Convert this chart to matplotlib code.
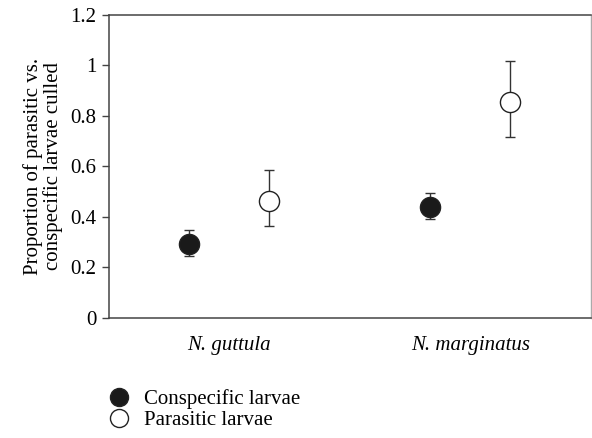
import matplotlib
matplotlib.use("Agg")
import matplotlib.pyplot as plt
from matplotlib.lines import Line2D

plt.rcParams["font.family"] = ["Liberation Serif", "DejaVu Serif"]

species = ["N. guttula", "N. marginatus"]
consp_mean = [0.293, 0.441]
consp_lo = [0.245, 0.392]
consp_hi = [0.350, 0.496]
paras_mean = [0.462, 0.855]
paras_lo = [0.364, 0.718]
paras_hi = [0.584, 1.018]
yticks = [0, 0.2, 0.4, 0.6, 0.8, 1, 1.2]
ytick_labels = ["0", "0.2", "0.4", "0.6", "0.8", "1", "1.2"]

fig = plt.figure(figsize=(5.92, 4.38), dpi=100)
ax = fig.add_axes([0.184, 0.274, 0.814, 0.692])

pos = [1, 2]
off = 0.166

def draw(xs, mean, lo, hi, face):
    err = [[m - l for m, l in zip(mean, lo)], [h - m for m, h in zip(mean, hi)]]
    ax.errorbar(xs, mean, yerr=err, fmt="none", ecolor="#333333",
                elinewidth=1.0, capsize=3.5, capthick=1.0, zorder=2)
    ax.plot(xs, mean, "o", ms=14.5, mfc=face, mec="#222222", mew=1.0,
            ls="none", zorder=3)

draw([p - off for p in pos], consp_mean, consp_lo, consp_hi, "#1a1a1a")
draw([p + off for p in pos], paras_mean, paras_lo, paras_hi, "white")

ax.set_xlim(0.5, 2.5)
ax.set_ylim(0, 1.2)
ax.set_xticks(pos)
ax.set_xticklabels(species, fontstyle="italic", fontsize=15)
ax.tick_params(axis="x", length=0, pad=13)
ax.set_yticks(yticks)
ax.set_yticklabels(ytick_labels, fontsize=15)
ax.tick_params(axis="y", direction="out", length=5, width=1, color="#444444", pad=4)

for s in ["left", "top", "bottom"]:
    ax.spines[s].set_color("#444444")
    ax.spines[s].set_linewidth(1.1)
ax.spines["right"].set_color("#aaaaaa")
ax.spines["right"].set_linewidth(1.0)

ax.set_ylabel("Proportion of parasitic vs.\nconspecific larvae culled",
              fontsize=15, linespacing=1.05, labelpad=5)

handles = [
    Line2D([], [], marker="o", ls="none", ms=13, mfc="#1a1a1a", mec="#222222",
           label="Conspecific larvae"),
    Line2D([], [], marker="o", ls="none", ms=13, mfc="white", mec="#222222",
           label="Parasitic larvae"),
]
fig.legend(handles=handles, loc="upper left", bbox_to_anchor=(0.18, 0.111),
           frameon=False, fontsize=15, handletextpad=0.6, labelspacing=0.05,
           borderaxespad=0, borderpad=0, handlelength=1.2)

fig.savefig("out.png", dpi=100)
